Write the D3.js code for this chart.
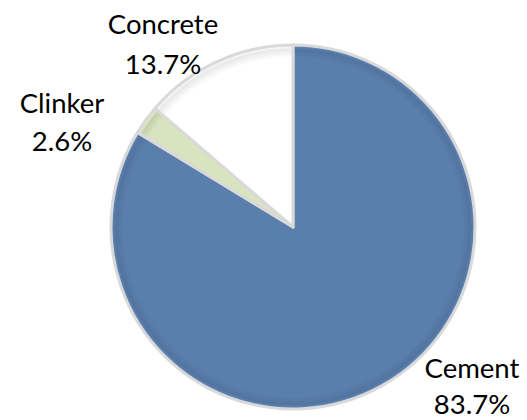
<!DOCTYPE html>
<html><head><meta charset="utf-8">
<script src="https://cdn.jsdelivr.net/npm/d3@7"></script>
<style>body{margin:0;background:#fff}svg{display:block}</style>
</head><body>
<script>
const categories = ["Cement", "Clinker", "Concrete"];
const values = [83.7, 2.6, 13.7];
const colors = ["#5a7fad", "#d7e4bd", "#ffffff"];
const labels = ["83.7%", "2.6%", "13.7%"];

const W = 527, H = 420;
const cx = 293, cy = 227, R = 182;
const svg = d3.select("body").append("svg").attr("width", W).attr("height", H);
const defs = svg.append("defs");
colors.forEach((c, i) => {
  const g = defs.append("radialGradient").attr("id", "g" + i)
    .attr("gradientUnits", "userSpaceOnUse").attr("cx", 0).attr("cy", 0).attr("r", R);
  const base = d3.color(c);
  g.append("stop").attr("offset", "0.93").attr("stop-color", c);
  g.append("stop").attr("offset", "0.975").attr("stop-color", base.darker(0.25).formatHex());
  g.append("stop").attr("offset", "1").attr("stop-color", base.brighter(0.3).formatHex());
});
const data = categories.map((c, i) => ({cat: c, v: values[i], i}));
const pie = d3.pie().value(d => d.v).sort(null);
const arc = d3.arc().innerRadius(0).outerRadius(R);
const g = svg.append("g").attr("transform", `translate(${cx},${cy})`);
g.selectAll("path").data(pie(data)).join("path")
  .attr("d", arc)
  .attr("fill", d => `url(#g${d.data.i})`)
  .attr("stroke", "#d9d9d9").attr("stroke-width", 3).attr("stroke-linejoin", "round");

const font = "Lato, 'Open Sans', sans-serif";
const lpos = [[472, 378, 414], [62, 113, 151], [163, 34, 74]];
data.forEach((d, i) => {
  const t = svg.append("text").attr("text-anchor", "middle")
    .attr("font-family", font).attr("font-size", 27.5).attr("fill", "#000");
  t.append("tspan").attr("x", lpos[i][0]).attr("y", lpos[i][1]).text(d.cat);
  t.append("tspan").attr("x", lpos[i][0]).attr("y", lpos[i][2]).text(labels[i]);
});
</script>
</body></html>
